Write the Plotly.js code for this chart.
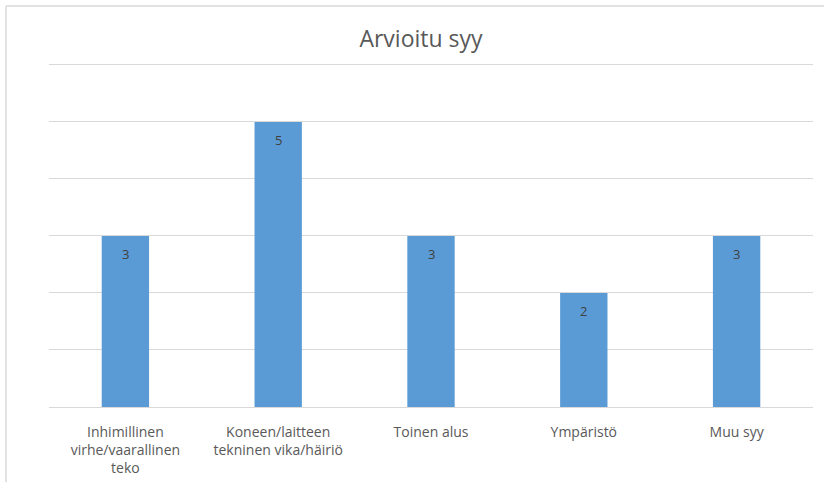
<!DOCTYPE html>
<html>
<head>
<meta charset="utf-8">
<script src="https://cdn.plot.ly/plotly-3.0.1.min.js"></script>
<style>html,body{margin:0;padding:0;background:#fff;}#chart{width:824px;height:482px;}</style>
</head>
<body>
<div id="chart"></div>
<script>
const categories = [
  "Inhimillinen<br>virhe/vaarallinen<br>teko",
  "Koneen/laitteen<br>tekninen vika/häiriö",
  "Toinen alus",
  "Ympäristö",
  "Muu syy"
];
const values = [3, 5, 3, 2, 3];
const chartTitle = "Arvioitu syy";

const W = 824, H = 482;
const yMax = 6.05;
const m = {l: 49, r: 11, t: 62, b: 75};
const pw = W - m.l - m.r, ph = H - m.t - m.b;
const px = x => (x - m.l) / pw;
const py = y => 1 - (y - m.t) / ph;

const trace = {
  type: 'bar',
  x: categories,
  y: values,
  marker: {color: '#5B9BD5'},
  width: 0.31,
  hoverinfo: 'none'
};

const labelAnnotations = categories.map((c, i) => ({
  x: c, y: values[i], xref: 'x', yref: 'y',
  text: String(values[i]), showarrow: false,
  yanchor: 'middle', yshift: -18,
  font: {family: 'Open Sans, sans-serif', size: 13, color: '#404040'}
}));

const layout = {
  width: W, height: H,
  margin: m,
  paper_bgcolor: '#ffffff',
  plot_bgcolor: '#ffffff',
  showlegend: false,
  title: {
    text: chartTitle,
    font: {family: 'Open Sans, sans-serif', size: 23, color: '#595959'},
    x: px(421), xanchor: 'center', xref: 'paper',
    y: 1 - 39 / H, yanchor: 'middle'
  },
  xaxis: {
    type: 'category',
    showline: true, linecolor: '#d9d9d9', linewidth: 1,
    showgrid: false, ticks: '',
    ticklabelstandoff: 12,
    tickfont: {family: 'Open Sans, sans-serif', size: 14, color: '#595959'},
    fixedrange: true
  },
  yaxis: {
    range: [0, yMax], tickmode: 'array', tickvals: [1, 2, 3, 4, 5, 6],
    showgrid: true, gridcolor: '#d9d9d9', gridwidth: 1,
    showticklabels: false, zeroline: false, showline: false, ticks: '',
    fixedrange: true
  },
  annotations: labelAnnotations,
  shapes: [
    {type: 'line', xref: 'paper', yref: 'paper', x0: px(6), x1: px(6), y0: py(6), y1: py(H), line: {color: '#d9d9d9', width: 1.5}},
    {type: 'line', xref: 'paper', yref: 'paper', x0: px(6), x1: px(W), y0: py(6), y1: py(6), line: {color: '#d9d9d9', width: 1.5}}
  ],
  font: {family: 'Open Sans, sans-serif'}
};

Plotly.newPlot('chart', [trace], layout, {displayModeBar: false, staticPlot: true});
</script>
</body>
</html>
